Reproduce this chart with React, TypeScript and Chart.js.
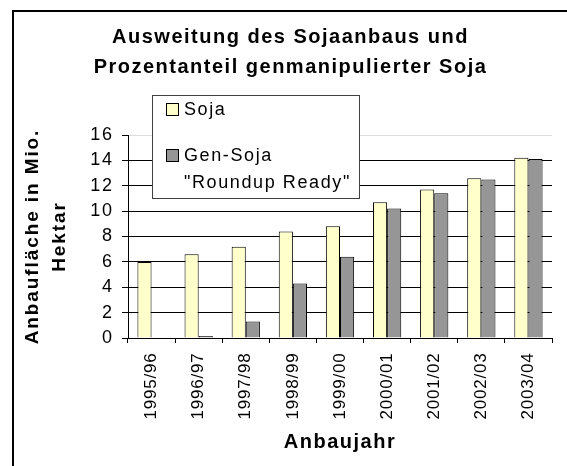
import React, { useEffect, useRef } from "react";
import { Chart, registerables } from "chart.js";

Chart.register(...registerables);

const categories = ["1995/96", "1996/97", "1997/98", "1998/99", "1999/00", "2000/01", "2001/02", "2002/03", "2003/04"];
const sojaValues = [6.0, 6.6, 7.2, 8.4, 8.8, 10.7, 11.7, 12.6, 14.2];
const genSojaValues = [0, 0.15, 1.3, 4.3, 6.4, 10.2, 11.4, 12.5, 14.1];
const seriesLabels = ["Soja", 'Gen-Soja\n"Roundup Ready"'];
const titleLines = ["Ausweitung des Sojaanbaus und", "Prozentanteil genmanipulierter Soja"];
const yTitleLines = ["Anbaufläche in Mio.", "Hektar"];
const xTitle = "Anbaujahr";
const yTicks = [0, 2, 4, 6, 8, 10, 12, 14, 16];

const FONT = "'Liberation Sans', Arial, sans-serif";

// letter spacing (px) per text style, to mimic the wide GDI rendering of the original
const SPACING: Record<string, number> = { b20: 1.5, b19: 1.9, n18: 1.6, n17: 0.8 };
function spacingFor(font: string): number {
  const m = /(\d+(?:\.\d+)?)px/.exec(font || "");
  if (!m) return 0;
  const bold = /bold|700/.test(font);
  const key = (bold ? "b" : "n") + Math.round(parseFloat(m[1]));
  return SPACING[key] || 0;
}

const legendPlugin = {
  id: "boxLegend",
  afterDraw(chart: any) {
    const ctx = chart.ctx;
    const bx = 138, by = 83, bw = 207, bh = 103;
    ctx.save();
    ctx.fillStyle = "#ffffff";
    ctx.fillRect(bx, by, bw, bh);
    ctx.strokeStyle = "#404040";
    ctx.lineWidth = 1;
    ctx.strokeRect(bx + 0.5, by + 0.5, bw, bh);
    ctx.font = `18px ${FONT}`;
    ctx.textBaseline = "middle";
    ctx.textAlign = "left";
    const itemY = [91, 137];
    chart.data.datasets.forEach((ds: any, i: number) => {
      const y = itemY[i];
      ctx.fillStyle = ds.backgroundColor;
      ctx.fillRect(152, y, 13, 13);
      ctx.strokeStyle = "#000";
      ctx.strokeRect(152.5, y + 0.5, 12, 12);
      ctx.fillStyle = "#000";
      const lines = String(ds.label).split("\n");
      lines.forEach((ln: string, j: number) => {
        ctx.fillText(ln, 170, y + 7 + j * 27);
      });
    });
    ctx.restore();
  },
};

export default function App() {
  const ref = useRef<HTMLCanvasElement | null>(null);
  useEffect(() => {
    const canvas = ref.current;
    if (!canvas) return;
    const ctx: any = canvas.getContext("2d");
    const proto: any = CanvasRenderingContext2D.prototype;
    ctx.fillText = function (text: string, x: number, y: number, maxWidth?: number) {
      this.letterSpacing = spacingFor(this.font) + "px";
      return maxWidth === undefined ? proto.fillText.call(this, text, x, y) : proto.fillText.call(this, text, x, y, maxWidth);
    };
    ctx.measureText = function (text: string) {
      this.letterSpacing = spacingFor(this.font) + "px";
      return proto.measureText.call(this, text);
    };
    const chart = new Chart(canvas, {
      type: "bar",
      data: {
        labels: categories,
        datasets: [
          {
            label: seriesLabels[0],
            data: sojaValues,
            backgroundColor: "#FFFFCC",
            borderColor: "#000000",
            borderWidth: 1,
            categoryPercentage: 0.6,
            barPercentage: 1.0,
          },
          {
            label: seriesLabels[1],
            data: genSojaValues,
            backgroundColor: "#969696",
            borderColor: "#000000",
            borderWidth: 1,
            categoryPercentage: 0.6,
            barPercentage: 1.0,
          },
        ],
      },
      options: {
        animation: false,
        responsive: false,
        maintainAspectRatio: false,
        layout: { padding: { left: 15, right: 15, top: 0, bottom: 0 } },
        plugins: {
          legend: { display: false },
          tooltip: { enabled: false },
          title: {
            display: true,
            text: titleLines,
            color: "#000",
            font: { family: FONT, size: 20, weight: "bold", lineHeight: 1.5 },
            padding: { top: 10.7, bottom: 52.3 },
          },
        },
        scales: {
          x: {
            offset: true,
            grid: {
              display: true,
              offset: true,
              drawOnChartArea: false,
              drawTicks: true,
              tickLength: 5,
              color: "#000",
              tickColor: "#000",
            },
            border: { display: true, color: "#000", width: 1 },
            ticks: {
              color: "#000",
              font: { family: FONT, size: 17 },
              minRotation: 90,
              maxRotation: 90,
              autoSkip: false,
              padding: 9.5,
            },
            title: {
              display: true,
              text: xTitle,
              color: "#000",
              font: { family: FONT, size: 20, weight: "bold", lineHeight: 1.2 },
              padding: { top: 0, bottom: 12 },
            },
            afterFit(scale: any) {
              scale.height = 128;
            },
          },
          y: {
            min: 0,
            max: 16,
            afterBuildTicks(scale: any) {
              scale.ticks = yTicks.map((v) => ({ value: v }));
            },
            grid: {
              color: (c: any) => (c.tick && c.tick.value === 16 ? "#dcdcdc" : "#000"),
              tickColor: "#000",
              tickLength: 6,
              drawTicks: true,
            },
            border: { display: true, color: "#000", width: 1 },
            ticks: {
              color: "#000",
              font: { family: FONT, size: 18 },
              padding: 8.5,
            },
            title: {
              display: true,
              text: yTitleLines,
              color: "#000",
              font: { family: FONT, size: 19, weight: "bold", lineHeight: 27 / 19 },
              padding: { top: -9.5, bottom: 0 },
            },
            afterFit(scale: any) {
              scale.width = 99;
            },
          },
        },
      },
      plugins: [legendPlugin],
    });
    return () => chart.destroy();
  }, []);

  return (
    <div style={{ position: "absolute", left: 0, top: 0, width: 567, height: 466, overflow: "hidden", background: "#fff" }}>
      <div
        style={{
          position: "absolute",
          left: 12,
          top: 10,
          width: 600,
          height: 500,
          borderLeft: "2px solid #000",
          borderTop: "2px solid #000",
        }}
      />
      <canvas ref={ref} width={553} height={454} style={{ position: "absolute", left: 14, top: 12, width: 553, height: 454 }} />
    </div>
  );
}
